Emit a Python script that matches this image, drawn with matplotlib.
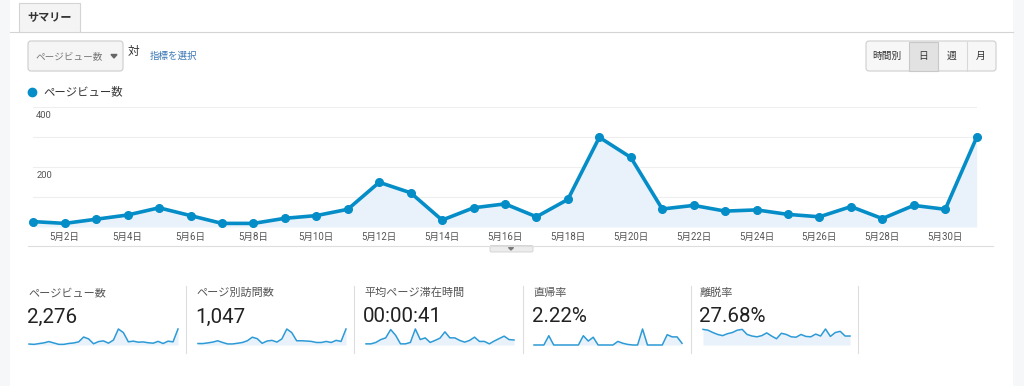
import matplotlib
matplotlib.use("Agg")
import matplotlib.pyplot as plt
from matplotlib.patches import FancyBboxPatch, Rectangle, Polygon

plt.rcParams['font.family'] = ['Roboto', 'Noto Sans CJK JP', 'DejaVu Sans']

# daily page views, May 1 - May 31
days = list(range(1, 32))
pageviews = [18, 12, 26, 40, 64, 38, 12, 12, 29, 38, 59, 149, 114, 23, 64, 77,
             34, 92, 299, 232, 60, 72, 53, 57, 42, 34, 68, 28, 72, 59, 299]
tick_days = list(range(2, 31, 2))
tick_labels = ["5月%d日" % d for d in tick_days]

# summary metrics with their daily sparklines
metric_names = ["ページビュー数", "ページ別訪問数", "平均ページ滞在時間", "直帰率", "離脱率"]
metric_values = ["2,276", "1,047", "00:00:41", "2.22%", "27.68%"]
visits = [11, 11, 16, 22, 32, 19, 8, 8, 13, 19, 32, 59, 48, 13, 30, 35,
          22, 46, 121, 94, 32, 32, 30, 27, 19, 19, 27, 19, 35, 27, 121]
avg_time = [8, 8, 18, 38, 50, 108, 68, 8, 8, 18, 112, 38, 50, 18, 32, 48,
            92, 50, 50, 32, 20, 32, 55, 25, 25, 8, 28, 45, 62, 38, 35]
bounce = [0, 0, 0, 8.0, 0, 0, 0, 0, 0, 0, 8.0, 3.4, 6.7, 0, 0, 0,
          0, 3.1, 1.5, 0.5, 0, 0, 13.8, 0, 0, 0, 0, 8.9, 7.0, 7.0, 1.5]
exit_rate = [40, 38, 32, 27, 24, 29, 32, 38, 40, 27, 23, 21, 24, 31, 23, 16,
             30, 27, 21, 20, 27, 22, 21, 28, 23, 41, 22, 32, 35, 23, 23]
sparks = [pageviews, visits, avg_time, bounce, exit_rate]

W, H = 1024, 386
BLUE = "#058dc7"
FILL = "#e9f2fa"

fig = plt.figure(figsize=(W / 100, H / 100), dpi=100)
fig.patch.set_facecolor("white")

# pixel-space layer for the page furniture
ui = fig.add_axes([0, 0, 1, 1])
ui.set_xlim(0, W)
ui.set_ylim(H, 0)
ui.axis("off")

ui.add_patch(Rectangle((0, 0), 10, H, color="#f6f7f9", lw=0))
ui.add_patch(Rectangle((1013, 0), W - 1013, H, color="#f6f7f9", lw=0))

# tab
ui.add_patch(Rectangle((19, 3), 61, 28.5, facecolor="#f4f4f4", edgecolor="#d4d4d4", lw=0.8))
ui.plot([10, 19], [31.5, 31.5], color="#d4d4d4", lw=0.8)
ui.plot([80, 1013], [31.5, 31.5], color="#d4d4d4", lw=0.8)
ui.text(49.5, 17, "サマリー", fontsize=8, fontweight="bold", color="#333333",
        ha="center", va="center")

# metric selector
ui.add_patch(FancyBboxPatch((28, 41), 95, 30, boxstyle="round,pad=0,rounding_size=3",
                            facecolor="#f5f5f5", edgecolor="#cccccc", lw=0.8))
ui.text(35, 56, "ページビュー数", fontsize=6.9, color="#777777", va="center")
ui.add_patch(Polygon([[111, 54.5], [117, 54.5], [114, 58]], closed=True, color="#666666"))
ui.text(128, 51.5, "対", fontsize=8.4, color="#333333", va="center")
ui.text(150, 56, "指標を選択", fontsize=6.8, color="#3a77b5", va="center")

# period buttons
ui.add_patch(FancyBboxPatch((866, 41), 130, 30, boxstyle="round,pad=0,rounding_size=3",
                            facecolor="#f7f7f7", edgecolor="#cfcfcf", lw=0.8))
ui.add_patch(Rectangle((908.5, 41.5), 29, 29, facecolor="#e2e2e2", edgecolor="#c8c8c8", lw=0.8))
for xd in [966.5]:
    ui.plot([xd, xd], [41.5, 70.5], color="#d8d8d8", lw=0.8)
for label, xc in zip(["時間別", "日", "週", "月"], [887, 923, 952, 981]):
    ui.text(xc, 56, label, fontsize=7, color="#333333", ha="center", va="center")

# legend
ui.plot(32, 92, "o", color=BLUE, ms=6)
ui.text(43, 92, "ページビュー数", fontsize=8.2, color="#333333", va="center")

# main chart
x0, x1, ybot, ytop = 33.3, 976.7, 227, 107
ax = fig.add_axes([x0 / W, 1 - ybot / H, (x1 - x0) / W, (ybot - ytop) / H])
ax.set_facecolor("none")
ax.set_xlim(1, 31)
ax.set_ylim(0, 400)
for v in [100, 200, 300, 400]:
    ax.axhline(v, color="#eeeeee", lw=0.8, zorder=0)
ax.axhline(0, color="#777777", lw=1.4, zorder=1)
ax.fill_between(days, pageviews, 0, color=FILL, lw=0, zorder=1)
ax.plot(days, pageviews, color=BLUE, lw=2.6, marker="o", ms=5.5, zorder=3,
        solid_joinstyle="round", clip_on=False)
for v in [400, 200]:
    ax.annotate(str(v), xy=(0, v), xycoords=("axes fraction", "data"),
                xytext=(3, -9), textcoords="offset pixels",
                fontsize=6.8, color="#555555", va="center")
for s in ax.spines.values():
    s.set_visible(False)
ax.set_yticks([])
ax.set_xticks(tick_days)
ax.set_xticklabels(tick_labels)
ax.tick_params(axis="x", length=0, pad=3.5, labelsize=6.9, labelcolor="#555555")

# line under the chart with the little collapse handle
ui.plot([28, 993], [245.5, 245.5], color="#dddddd", lw=0.8)
ui.add_patch(FancyBboxPatch((490, 245.5), 43, 6.5, boxstyle="round,pad=0,rounding_size=1.5",
                            facecolor="#ececec", edgecolor="#d0d0d0", lw=0.6))
ui.add_patch(Polygon([[508.5, 247.5], [513.5, 247.5], [511, 250]], closed=True, color="#777777"))

# summary metrics
col_x = [28, 196, 364, 533, 700]
spark_x = [(29, 178), (198, 346), (366, 514), (534, 682), (703, 850)]
for xd in [186, 354, 523, 691, 858]:
    ui.plot([xd, xd], [286, 353], color="#dddddd", lw=0.8)
for name, val, cx in zip(metric_names, metric_values, col_x):
    ui.text(cx, 293, name, fontsize=8, color="#555555", va="center")
    ui.text(cx - 1, 317, val, fontsize=14.8, color="#222222", va="center")
for data, (sx0, sx1) in zip(sparks, spark_x):
    sp = fig.add_axes([sx0 / W, 1 - 345 / H, (sx1 - sx0) / W, 16 / H])
    sp.set_facecolor("none")
    sp.fill_between(days, data, 0, color=FILL, lw=0)
    sp.plot(days, data, color="#2c9ad6", lw=1.1, solid_joinstyle="round", clip_on=False)
    sp.set_xlim(1, 31)
    sp.set_ylim(0, max(data))
    sp.axis("off")

fig.savefig("out.png", dpi=100)
